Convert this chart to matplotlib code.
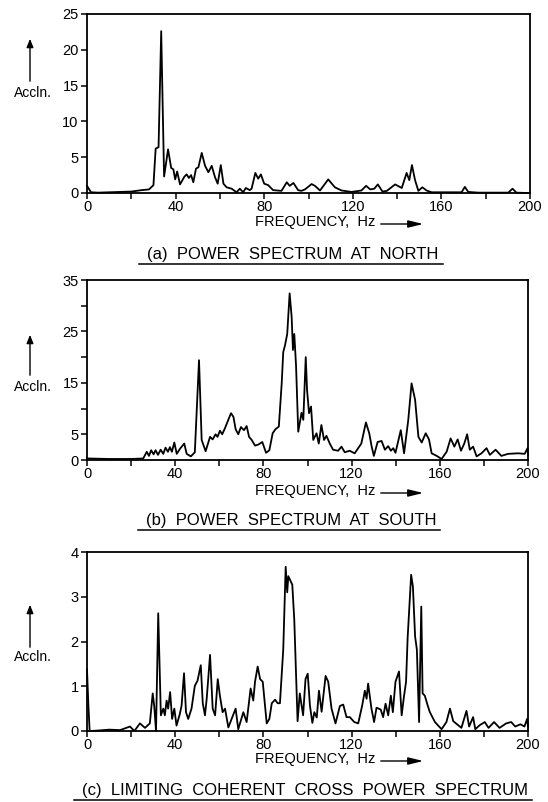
import matplotlib
matplotlib.use("Agg")
import matplotlib.pyplot as plt
from matplotlib.lines import Line2D
from matplotlib.patches import FancyArrowPatch
from matplotlib.ticker import FixedLocator, FixedFormatter

plt.rcParams['font.family'] = ['Liberation Sans', 'DejaVu Sans']

# ---------------- data ----------------
freq_a = [0, 0.8, 1.8, 5, 10, 20, 24.7, 28, 30, 31, 32.3, 33.5, 34.8, 36.6, 38, 39, 39.8, 40.7, 42, 44,
          45, 46, 47, 48, 49.2, 50.3, 51.8, 53.3, 54.8, 56.3, 57.8, 59, 60.4, 61.6, 63, 65.3, 67.5, 69, 70.5, 71.7,
          73.5, 74.3, 76, 77.3, 78.5, 80, 81.8, 84, 87.8, 90.2, 91.5, 93.2, 95.3, 96.8, 98.4, 101.4, 102.9, 105.2, 108.9, 111.9,
          114.9, 119.4, 123.9, 126, 127.9, 129.7, 131.3, 133.4, 135.4, 139.1, 142.1, 144.3, 145.5, 146.7, 148.1, 149.6, 151.4, 153.3, 155.6, 169.1,
          170.6, 172.1, 176.6, 190.2, 192.1, 193.9, 199, 200]
acc_a = [1.0, 0.6, 0.1, 0.05, 0.1, 0.2, 0.4, 0.5, 1.1, 6.2, 6.4, 22.6, 2.3, 6.1, 3.5, 3.3, 1.9, 3.0, 1.2, 2.3,
         2.6, 2.1, 2.5, 1.5, 3.4, 3.6, 5.6, 3.8, 2.9, 3.8, 2.2, 1.3, 3.9, 1.3, 0.8, 0.6, 0.1, 0.6, 0.1, 0.7,
         0.4, 0.6, 2.8, 2.0, 2.6, 1.3, 1.1, 0.4, 0.3, 1.5, 1.0, 1.4, 0.4, 0.3, 0.5, 1.25, 1.0, 0.35, 1.9, 0.8,
         0.35, 0.15, 0.35, 1.0, 0.5, 0.6, 1.2, 0.2, 0.3, 1.2, 0.7, 2.8, 1.8, 3.9, 1.8, 0.3, 0.8, 0.35, 0.1, 0.1,
         0.85, 0.15, 0.05, 0.05, 0.6, 0.05, 0.0, 0.0]

freq_b = [0, 10, 20, 25.5, 27.1, 28.1, 29.1, 30.2, 31.1, 32.2, 33.4, 34.6, 35.6, 36.7, 37.6, 38.5, 39.6, 40.7, 42.2, 44.1,
          45.2, 47.1, 48.9, 50.8, 52, 53.8, 55.8, 57, 58.3, 59.2, 60.3, 61.3, 62.5, 63.7, 65.3, 66.4, 67.4, 68.6, 69.8, 71.2,
          72.4, 73.5, 74.7, 76.2, 77.7, 79.5, 81.2, 82.7, 84.2, 85.5, 87, 88.3, 89, 89.8, 90.8, 91.9, 92.8, 93.4, 94, 94.8,
          95.8, 97.3, 98.1, 99.2, 99.8, 100.7, 101.6, 102.6, 104.1, 105.1, 106.3, 107.5, 108.6, 110.1, 111.6, 113.9, 115.4, 116.9, 119.1, 121.4,
          124.4, 126.5, 128, 129.1, 130.1, 131.8, 133.6, 135.1, 136.6, 137.8, 138.9, 139.9, 142.3, 143.8, 145.7, 147.2, 148.8, 150.3, 151.8, 153.6,
          155.1, 156.3, 158.6, 160.8, 163.1, 164.9, 166.6, 168.1, 169.6, 171.1, 172.4, 173.6, 175.1, 176.7, 178.9, 181.2, 182.7, 185.3, 187.9, 191,
          195.5, 198.5, 199.8, 200]
acc_b = [0.3, 0.2, 0.2, 0.3, 1.6, 0.8, 1.9, 1.1, 1.9, 1.0, 2.0, 1.2, 2.4, 1.6, 2.5, 1.6, 3.4, 1.2, 2.2, 3.2,
         1.2, 0.7, 1.5, 19.4, 3.9, 1.7, 4.5, 4.0, 5.0, 4.5, 5.7, 5.0, 6.1, 7.4, 9.1, 8.4, 6.0, 5.0, 6.4, 5.8,
         6.6, 4.5, 3.9, 2.8, 3.0, 3.5, 1.4, 1.9, 5.2, 6.0, 6.5, 14.9, 21.0, 22.3, 24.5, 32.4, 27.9, 21.4, 24.5, 18.4,
         5.5, 9.2, 7.8, 20.0, 13.6, 9.1, 10.4, 3.9, 5.2, 3.2, 6.8, 3.9, 4.7, 3.2, 2.0, 1.8, 2.6, 1.5, 1.8, 1.3,
         3.2, 7.3, 5.2, 2.6, 0.8, 3.5, 3.7, 2.0, 2.7, 1.8, 2.3, 1.4, 5.8, 1.3, 7.8, 14.9, 11.7, 4.5, 3.4, 5.2,
         4.0, 1.3, 0.8, 0.2, 1.6, 4.2, 2.6, 4.0, 1.8, 3.2, 5.0, 2.0, 2.6, 0.7, 1.3, 2.3, 1.0, 2.0, 0.8, 1.2,
         1.3, 1.2, 2.3, 1.0]

freq_c = [0, 0.6, 1.2, 5, 10, 15, 19.5, 21.5, 24, 26.3, 28.5, 29.8, 30.5, 31.3, 32.3, 33.5, 34.6, 35.3, 36.1, 36.8,
          37.7, 38.6, 39.6, 40.6, 42.1, 42.9, 44, 44.9, 45.9, 47.4, 48.9, 50.1, 51.6, 52.5, 53.5, 54.3, 55.8, 57, 58.1, 59.3,
          60.3, 61.5, 62.6, 64.1, 67.4, 68.6, 70.9, 72.4, 74.2, 75.4, 76.2, 77.4, 78.5, 79.7, 81.5, 82.7, 83.8, 85.3, 86.5, 87.5,
          89, 90.1, 90.8, 91.3, 93.1, 94, 95.5, 96.5, 98, 99.1, 100.1, 101.1, 102.2, 103.1, 104.2, 105.2, 106.4, 108.2, 109.4, 110.9,
          112.7, 114.7, 116.2, 117.7, 119.2, 121.2, 123, 124.8, 126, 126.8, 127.5, 129, 130.2, 131.3, 133.2, 134.3, 135.4, 136.6, 137.8, 138.7,
          139.9, 141.5, 142.7, 143.8, 144.7, 145.4, 147, 147.8, 148.8, 149.6, 150.6, 151.6, 152.2, 153.2, 154.5, 155.5, 157.8, 160.8, 163, 164.6,
          166.1, 169.8, 172.1, 173.3, 175.1, 176.1, 178.1, 180.4, 182.1, 184.6, 187.1, 190.1, 192.4, 194.2, 196.6, 198.4, 199.6, 200]
acc_c = [1.38, 0.6, 0.0, 0.01, 0.03, 0.02, 0.1, 0.0, 0.17, 0.07, 0.17, 0.84, 0.55, 0.0, 2.63, 0.35, 0.5, 0.35, 0.68, 0.5,
         0.87, 0.27, 0.5, 0.12, 0.38, 0.57, 1.29, 0.42, 0.27, 0.5, 1.01, 1.12, 1.47, 0.62, 0.35, 0.73, 1.70, 0.5, 0.35, 1.16,
         0.78, 0.42, 0.5, 0.08, 0.5, 0.04, 0.42, 0.2, 0.95, 0.68, 1.1, 1.44, 1.16, 1.1, 0.17, 0.27, 0.62, 0.7, 0.62, 0.62,
         1.82, 3.67, 3.1, 3.46, 3.27, 2.49, 0.22, 0.84, 0.35, 1.16, 1.28, 0.57, 0.18, 0.42, 0.3, 0.9, 0.43, 1.23, 1.1, 0.5,
         0.17, 0.56, 0.59, 0.31, 0.31, 0.2, 0.17, 0.57, 0.9, 0.72, 1.06, 0.5, 0.2, 0.52, 0.48, 0.31, 0.61, 0.35, 0.79, 0.42,
         1.1, 1.33, 0.35, 0.79, 1.1, 2.07, 3.49, 3.23, 2.11, 1.82, 0.2, 2.78, 0.84, 0.79, 0.57, 0.42, 0.2, 0.04, 0.2, 0.5,
         0.22, 0.07, 0.45, 0.1, 0.31, 0.04, 0.13, 0.2, 0.07, 0.2, 0.07, 0.17, 0.2, 0.1, 0.15, 0.1, 0.27, 0.1]

x_ticks = [0, 40, 80, 120, 160, 200]
x_minor = [20, 60, 100, 140, 180]
y_ticks_a = [0, 5, 10, 15, 20, 25]
y_labels_a = ['0', '5', '10', '15', '20', '25']
y_ticks_b = [0, 5, 10, 15, 20, 25, 30, 35]
y_labels_b = ['0', '5', '', '15', '', '25', '', '35']
y_ticks_c = [0, 1, 2, 3, 4]
y_labels_c = ['0', '1', '2', '3', '4']

titles = ["(a)  POWER  SPECTRUM  AT  NORTH",
          "(b)  POWER  SPECTRUM  AT  SOUTH",
          "(c)  LIMITING  COHERENT  CROSS  POWER  SPECTRUM"]
xlabel = "FREQUENCY,  Hz"
ylabel = "Accln."

W, H = 548, 802
fig = plt.figure(figsize=(W / 100, H / 100), dpi=100)


def fx(px):
    return px / W


def fy(py):
    return 1 - py / H


panels = [
    dict(f=freq_a, v=acc_a, left=87, right=530, top=14, bottom=193, ylim=(0, 25),
         yt=y_ticks_a, yl=y_labels_a, acc_y=93, arr=(84, 36), xl_y=222, t_y=255, t_x=293),
    dict(f=freq_b, v=acc_b, left=87, right=528, top=280, bottom=460, ylim=(0, 35),
         yt=y_ticks_b, yl=y_labels_b, acc_y=387, arr=(378, 332), xl_y=491, t_y=521, t_x=291),
    dict(f=freq_c, v=acc_c, left=87, right=528, top=552, bottom=731, ylim=(0, 4),
         yt=y_ticks_c, yl=y_labels_c, acc_y=657, arr=(650, 602), xl_y=759, t_y=791, t_x=305),
]

title_texts = []
for i, p in enumerate(panels):
    ax = fig.add_axes([fx(p['left']), fy(p['bottom']), fx(p['right'] - p['left']),
                       (p['bottom'] - p['top']) / H])
    ax.plot(p['f'], p['v'], color='black', lw=1.3, clip_on=False)
    ax.set_xlim(0, 200)
    ax.set_ylim(*p['ylim'])
    ax.xaxis.set_major_locator(FixedLocator(x_ticks))
    ax.xaxis.set_minor_locator(FixedLocator(x_minor))
    ax.yaxis.set_major_locator(FixedLocator(p['yt']))
    ax.yaxis.set_major_formatter(FixedFormatter(p['yl']))
    ax.tick_params(axis='both', which='both', direction='out', length=4, width=1.1,
                   labelsize=10.5, colors='black')
    ax.tick_params(axis='x', pad=1)
    ax.tick_params(axis='y', pad=2)
    for s in ax.spines.values():
        s.set_linewidth(1.3)
    # Accln. label with arrow
    fig.text(fx(33), fy(p['acc_y']), ylabel, ha='center', va='center', fontsize=10)
    fig.add_artist(FancyArrowPatch(
        (fx(30), fy(p['arr'][0])), (fx(30), fy(p['arr'][1])),
        transform=fig.transFigure, arrowstyle='-|>,head_length=5,head_width=2',
        color='black', lw=1.0, mutation_scale=1))
    # frequency label with arrow
    fig.text(fx(255), fy(p['xl_y']), xlabel, ha='left', va='center', fontsize=10.5)
    fig.add_artist(FancyArrowPatch(
        (fx(378), fy(p['xl_y'] + 2)), (fx(426), fy(p['xl_y'] + 2)),
        transform=fig.transFigure, arrowstyle='-|>,head_length=9,head_width=2.2',
        color='black', lw=1.0, mutation_scale=1))
    t = fig.text(fx(p['t_x']), fy(p['t_y']), titles[i], ha='center',
                 va='center', fontsize=12)
    title_texts.append(t)

fig.canvas.draw()
renderer = fig.canvas.get_renderer()
for t in title_texts:
    bb = t.get_window_extent(renderer)
    x0, x1 = bb.x0 - 8, bb.x1 + 4
    yline = bb.y0 - 1
    fig.add_artist(Line2D([x0 / W, x1 / W], [yline / H, yline / H],
                          transform=fig.transFigure, color='black', lw=1.1))

fig.savefig("out.png", dpi=100)
